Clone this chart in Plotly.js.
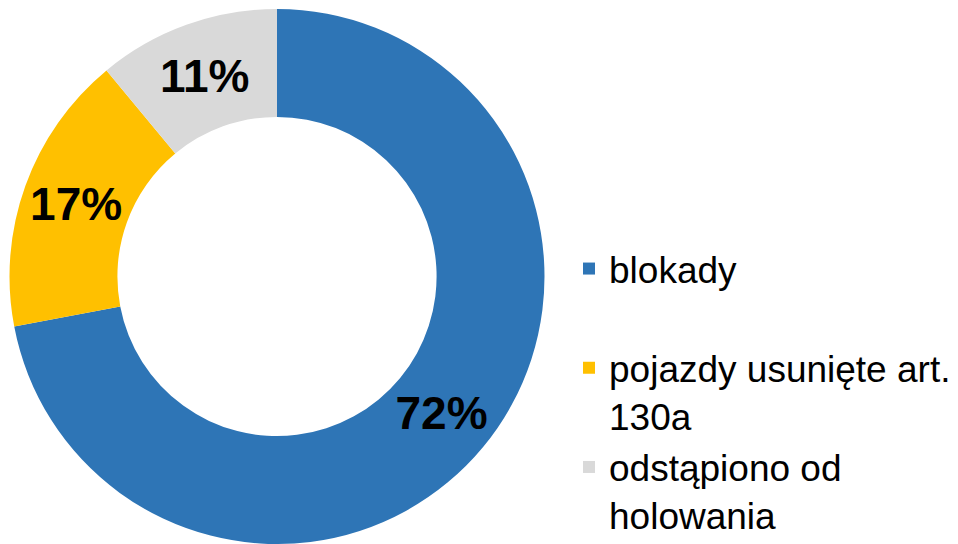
<!DOCTYPE html>
<html>
<head>
<meta charset="utf-8">
<script src="https://cdn.plot.ly/plotly-3.0.1.min.js"></script>
<style>html,body{margin:0;padding:0;background:#fff;}#chart{width:958px;height:544px;}</style>
</head>
<body>
<div id="chart"></div>
<script>
// Data
const categories = ["blokady", "pojazdy usunięte art. 130a", "odstąpiono od holowania"];
const legendLabels = ["blokady<br> ", "pojazdy usunięte art.<br>130a", "odstąpiono od<br>holowania"];
const shares = [72, 17, 11];
const colors = ["#2E75B6", "#FFC000", "#D9D9D9"];

const trace = {
  type: "pie",
  labels: legendLabels,
  values: shares,
  customdata: categories,
  hole: 0.5966,
  sort: false,
  direction: "clockwise",
  rotation: 0,
  marker: { colors: colors, line: { width: 0 } },
  texttemplate: "%{value}%",
  textposition: "inside",
  insidetextorientation: "horizontal",
  textfont: { family: "Liberation Sans, Arial, sans-serif", size: 46, color: "#000000", weight: "bold" },
  domain: { x: [9.5 / 958, 544.5 / 958], y: [0, 535 / 544] },
  hoverinfo: "none"
};

const layout = {
  width: 958,
  height: 544,
  margin: { l: 0, r: 0, t: 0, b: 0, autoexpand: false },
  paper_bgcolor: "#ffffff",
  plot_bgcolor: "#ffffff",
  showlegend: true,
  legend: {
    x: 569 / 958,
    xanchor: "left",
    y: (544 - 238) / 544,
    yanchor: "top",
    valign: "top",
    font: { family: "Liberation Sans, Arial, sans-serif", size: 37, color: "#000000" },
    bgcolor: "rgba(0,0,0,0)",
    borderwidth: 0,
    traceorder: "normal"
  },
  font: { family: "Liberation Sans, Arial, sans-serif" }
};

Plotly.newPlot("chart", [trace], layout, { staticPlot: true, displayModeBar: false });
</script>
</body>
</html>
